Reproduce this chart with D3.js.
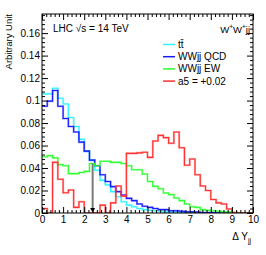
<!DOCTYPE html>
<html>
<head>
<meta charset="utf-8">
<script src="https://cdn.jsdelivr.net/npm/d3@7"></script>
<style>
  html, body { margin: 0; padding: 0; background: #fff; }
  svg { display: block; font-family: "Liberation Sans", Arial, sans-serif; }
</style>
</head>
<body>
<script>
// ---- data ----
const binEdges = d3.range(0, 10.0001, 0.25); // 41 edges, 40 bins
const seriesNames = ["tt\u0304", "WWjj QCD", "WWjj EW", "a5 = +0.02"];
const seriesColors = ["#30f4ff", "#1a1aff", "#30ff30", "#ff3030"];

const ttbar = [0.106, 0.106, 0.111, 0.102, 0.097, 0.085, 0.077, 0.0655, 0.055, 0.047,
               0.038, 0.029, 0.025, 0.019, 0.0145, 0.010, 0.007, 0.0056, 0.004, 0.003,
               0.0025, 0.002, 0.0015, 0.001, 0.001, 0.0008, 0.0005, 0.0003, 0.0002, 0.0001,
               0, 0, 0, 0, 0, 0, 0, 0, 0, 0];
const wwQCD = [0.095, 0.0995, 0.109, 0.095, 0.084, 0.077, 0.072, 0.063, 0.055, 0.047,
               0.042, 0.034, 0.028, 0.0235, 0.019, 0.016, 0.013, 0.011, 0.008, 0.006,
               0.005, 0.004, 0.003, 0.003, 0.002, 0.002, 0.0015, 0.001, 0.001, 0.0008,
               0.0005, 0.0005, 0.0003, 0.0002, 0.0001, 0, 0, 0, 0, 0];
const wwEW  = [0.050, 0.051, 0.049, 0.043, 0.042, 0.035, 0.035, 0.036, 0.037, 0.044,
               0.042, 0.046, 0.046, 0.045, 0.045, 0.044, 0.042, 0.0385, 0.0385, 0.0347,
               0.028, 0.0237, 0.0216, 0.0178, 0.0163, 0.0133, 0.011, 0.008, 0.0055, 0.005,
               0.003, 0.0025, 0.002, 0.0015, 0.001, 0.001, 0.0005, 0, 0, 0];
const a5    = [0.004, 0, 0.045, 0.030, 0.018, 0.0205, 0.005, 0.010, 0, 0,
               0, 0.007, 0, 0.009, 0.024, 0.015, 0.053, 0.053, 0.0535, 0.054,
               0.0495, 0.064, 0.069, 0.067, 0.062, 0.072, 0.058, 0.0425, 0.048, 0.034,
               0.024, 0.020, 0.012, 0.009, 0.008, 0.0035, 0.0005, 0, 0, 0];
const seriesValues = [ttbar, wwQCD, wwEW, a5];

const xTickValues = d3.range(0, 11, 1);
const yTickValues = [0, 0.02, 0.04, 0.06, 0.08, 0.10, 0.12, 0.14, 0.16];
const yTickLabels = ["0", "0.02", "0.04", "0.06", "0.08", "0.1", "0.12", "0.14", "0.16"];
const cutValue = 2.4;      // vertical cut line position
const cutHeight = 0.044;   // its height

// ---- layout ----
const W = 266, H = 255;
const L = 42, R = 253, T = 14, B = 213;

const svg = d3.select("body").append("svg").attr("width", W).attr("height", H);
const x = d3.scaleLinear().domain([0, 10]).range([L, R]);
const y = d3.scaleLinear().domain([0, 0.177]).range([B, T]);

// clip
svg.append("clipPath").attr("id", "clip").append("rect")
  .attr("x", L).attr("y", T).attr("width", R - L).attr("height", B - T);

// histograms
const line = d3.line().x(d => x(d[0])).y(d => y(d[1])).curve(d3.curveStepAfter);
const gH = svg.append("g").attr("clip-path", "url(#clip)");
seriesValues.forEach((vals, i) => {
  const pts = vals.map((v, k) => [binEdges[k], v]);
  pts.push([binEdges[vals.length], vals[vals.length - 1]]);
  gH.append("path").datum(pts).attr("d", line)
    .attr("fill", "none").attr("stroke", seriesColors[i])
    .attr("stroke-opacity", 0.4).attr("stroke-width", 2.1);
  gH.append("path").datum(pts).attr("d", line)
    .attr("fill", "none").attr("stroke", seriesColors[i])
    .attr("stroke-width", 1.1);
});

// cut line with arrow
svg.append("line")
  .attr("x1", x(cutValue)).attr("x2", x(cutValue))
  .attr("y1", y(cutHeight)).attr("y2", y(0) - 3)
  .attr("stroke", "#7a7a7a").attr("stroke-width", 2);
svg.append("path")
  .attr("d", `M${x(cutValue) - 2.5},${y(0) - 5} L${x(cutValue) + 2.5},${y(0) - 5} L${x(cutValue)},${y(0) - 0.5} Z`)
  .attr("fill", "#000");

// axes
const xMinor = d3.range(0, 10.0001, 0.2).filter(v => Math.abs(v - Math.round(v)) > 1e-6);
const yMinor = d3.range(0, 0.177, 0.004).filter(v => yTickValues.every(t => Math.abs(t - v) > 1e-6));

function clean(g) { g.select(".domain").remove(); g.selectAll("line").attr("stroke", "#000"); }

svg.append("g").attr("transform", `translate(0,${B})`)
  .call(d3.axisBottom(x).tickValues(xTickValues).tickSize(-6).tickPadding(3).tickFormat(d3.format("d")))
  .call(clean)
  .call(g => g.selectAll("text").attr("font-size", 10).attr("fill", "#000").attr("font-family", "Liberation Sans, Arial, sans-serif"));
svg.append("g").attr("transform", `translate(0,${B})`)
  .call(d3.axisBottom(x).tickValues(xMinor).tickSize(-3).tickFormat(""))
  .call(clean);
svg.append("g").attr("transform", `translate(0,${T})`)
  .call(d3.axisTop(x).tickValues(xTickValues).tickSize(-6).tickFormat(""))
  .call(clean);
svg.append("g").attr("transform", `translate(0,${T})`)
  .call(d3.axisTop(x).tickValues(xMinor).tickSize(-3).tickFormat(""))
  .call(clean);

svg.append("g").attr("transform", `translate(${L},0)`)
  .call(d3.axisLeft(y).tickValues(yTickValues).tickSize(-6).tickPadding(2)
    .tickFormat((d, i) => yTickLabels[i]))
  .call(clean)
  .call(g => g.selectAll("text").attr("font-size", 10).attr("fill", "#000").attr("font-family", "Liberation Sans, Arial, sans-serif"));
svg.append("g").attr("transform", `translate(${L},0)`)
  .call(d3.axisLeft(y).tickValues(yMinor).tickSize(-3).tickFormat(""))
  .call(clean);
svg.append("g").attr("transform", `translate(${R},0)`)
  .call(d3.axisRight(y).tickValues(yTickValues).tickSize(-6).tickFormat(""))
  .call(clean);
svg.append("g").attr("transform", `translate(${R},0)`)
  .call(d3.axisRight(y).tickValues(yMinor).tickSize(-3).tickFormat(""))
  .call(clean);

// frame
svg.append("rect").attr("x", L).attr("y", T).attr("width", R - L).attr("height", B - T)
  .attr("fill", "none").attr("stroke", "#000").attr("stroke-width", 1);

// texts
svg.append("text").attr("x", 53).attr("y", 32).attr("font-size", 10).text("LHC \u221As = 14 TeV");

const ww = svg.append("text").attr("x", 250).attr("y", 33).attr("font-size", 9.5).attr("text-anchor", "end");
ww.append("tspan").text("W");
ww.append("tspan").attr("font-size", 6.5).attr("dy", -4).text("+");
ww.append("tspan").attr("dy", 4).text("W");
ww.append("tspan").attr("font-size", 6.5).attr("dy", -4).text("+");
ww.append("tspan").attr("dy", 4).text("jj");

// legend
seriesNames.forEach((n, i) => {
  const by = 48 + i * 12.2;
  svg.append("line").attr("x1", 163).attr("x2", 175).attr("y1", by - 3.5).attr("y2", by - 3.5)
    .attr("stroke", seriesColors[i]).attr("stroke-width", 1.5);
  svg.append("text").attr("x", 178).attr("y", by).attr("font-size", 10).text(n);
});

// axis titles
svg.append("text").attr("transform", `translate(11.5,${T}) rotate(-90)`)
  .attr("text-anchor", "end").attr("font-size", 9.5).text("Arbitrary Unit");

const xt = svg.append("text").attr("x", 251).attr("y", 240).attr("font-size", 10).attr("text-anchor", "end");
xt.append("tspan").text("\u0394 Y");
xt.append("tspan").attr("font-size", 7).attr("dy", 3).text("jj");
</script>
</body>
</html>
